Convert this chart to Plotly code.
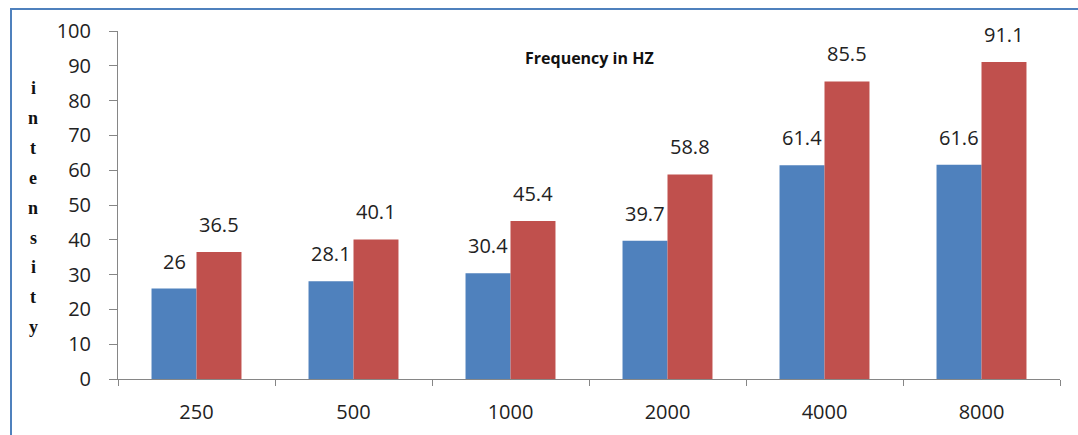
import plotly.graph_objects as go

categories = ["250", "500", "1000", "2000", "4000", "8000"]
series_a = [26, 28.1, 30.4, 39.7, 61.4, 61.6]
series_b = [36.5, 40.1, 45.4, 58.8, 85.5, 91.1]
title_text = "Frequency in HZ"
ytitle = "intensity"

W, H = 1078, 435
L, R, T, B = 118, 18, 31, 56
pw, ph = W - L - R, H - T - B
BARGAP = 0.427
bar_px = pw / len(categories) * (1 - BARGAP) / 2

def px_x(x):
    return (x - L) / pw

def px_y(y):
    return (H - B - y) / ph

label_font = dict(family="Open Sans, Liberation Sans, sans-serif", size=20, color="#222")
tick_font = dict(family="Open Sans, sans-serif", size=20, color="#222")

fig = go.Figure()
fig.add_trace(go.Bar(x=categories, y=series_a, marker=dict(color="#4F81BD", line=dict(width=0)), name="a"))
fig.add_trace(go.Bar(x=categories, y=series_b, marker=dict(color="#C0504D", line=dict(width=0)), name="b"))

annotations = []
for vals, sign in ((series_a, -1), (series_b, 1)):
    for idx, v in enumerate(vals):
        annotations.append(dict(text=f"{v:g}", x=idx, y=v, xref="x", yref="y", showarrow=False,
                                xanchor="center", yanchor="bottom", xshift=sign * bar_px / 2, yshift=12,
                                font=label_font))

annotations.append(dict(text=f"<b>{title_text}</b>", x=px_x(589.5), y=px_y(58), xref="paper", yref="paper",
                        xanchor="center", yanchor="middle", showarrow=False,
                        font=dict(family="Open Sans, sans-serif", size=16, color="#111")))
y0, step = 88, 29.9
for i, ch in enumerate(ytitle):
    annotations.append(dict(text=f"<b>{ch}</b>", x=px_x(33), y=px_y(y0 + i * step), xref="paper", yref="paper",
                            xanchor="center", yanchor="middle", showarrow=False,
                            font=dict(family="Liberation Serif, serif", size=18, color="#111")))

fig.update_layout(
    width=W, height=H, margin=dict(l=L, r=R, t=T, b=B),
    paper_bgcolor="white", plot_bgcolor="white",
    barmode="group", bargap=BARGAP, bargroupgap=0,
    showlegend=False,
    annotations=annotations,
    shapes=[dict(type="rect", xref="paper", yref="paper",
                 x0=px_x(11), x1=px_x(1085), y0=px_y(445), y1=px_y(9),
                 line=dict(color="#4F81BD", width=2), fillcolor="rgba(0,0,0,0)", layer="below")],
    xaxis=dict(type="category", categoryarray=categories, categoryorder="array", automargin=False,
               range=[-0.5, len(categories) - 0.5], showline=True, linecolor="#868686", linewidth=1,
               ticks="outside", tickson="boundaries", ticklen=6, tickcolor="#868686",
               tickfont=tick_font, showgrid=False, ticklabelstandoff=15),
    yaxis=dict(range=[0, 100], dtick=10, showline=True, linecolor="#868686", linewidth=1, automargin=False,
               ticks="outside", ticklen=8, tickcolor="#868686", showgrid=False, zeroline=False,
               tickfont=tick_font, ticklabelstandoff=14),
)
fig.write_html("out.html")
